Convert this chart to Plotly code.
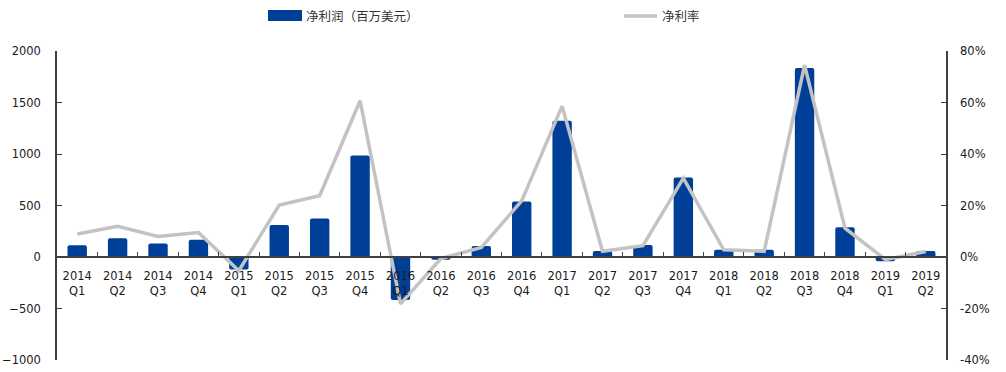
import plotly.graph_objects as go

quarters = [
    "2014<br>Q1", "2014<br>Q2", "2014<br>Q3", "2014<br>Q4",
    "2015<br>Q1", "2015<br>Q2", "2015<br>Q3", "2015<br>Q4",
    "2016<br>Q1", "2016<br>Q2", "2016<br>Q3", "2016<br>Q4",
    "2017<br>Q1", "2017<br>Q2", "2017<br>Q3", "2017<br>Q4",
    "2018<br>Q1", "2018<br>Q2", "2018<br>Q3", "2018<br>Q4",
    "2019<br>Q1", "2019<br>Q2",
]
net_income = [115, 181, 132, 168, -122, 311, 375, 986,
              -417, -26, 107, 540, 1323, 58, 116, 773,
              71, 71, 1835, 288, -42, 58]
net_margin = [8.9, 11.9, 8.0, 9.5, -5.3, 20.2, 23.8, 60.7,
              -18.2, -0.6, 3.7, 21.8, 58.6, 2.2, 4.4, 30.6,
              2.8, 2.2, 74.5, 11.2, -1.0, 2.1]

left_range = [-1000, 2000]
right_range = [-40, 80]
left_ticks = [-1000, -500, 0, 500, 1000, 1500, 2000]
right_ticks = [-40, -20, 0, 20, 40, 60, 80]

bar_color = "#003F98"
line_color = "#C3C3C3"
axis_color = "#404040"
tick_font = dict(family="DejaVu Sans", size=11.5, color="#1a1a1a")
legend_font = dict(family="Noto Sans CJK SC", size=12.5, color="#333333")

fig = go.Figure()
fig.add_trace(go.Bar(
    x=quarters, y=net_income, name="净利润（百万美元）",
    marker=dict(color=bar_color, line_width=0, cornerradius=2),
    width=0.48, yaxis="y", showlegend=False,
))
fig.add_trace(go.Scatter(
    x=quarters, y=net_margin, name="净利率", mode="lines",
    line=dict(color=line_color, width=3.5), yaxis="y2",
    showlegend=False,
))

# x axis sits where the left scale reaches zero
zero_pos = (0 - left_range[0]) / (left_range[1] - left_range[0])

fig.update_layout(
    width=1006, height=372,
    margin=dict(l=57, r=60, t=51, b=12, autoexpand=False),
    paper_bgcolor="white", plot_bgcolor="white",
    bargap=0.52,
    xaxis=dict(
        type="category", anchor="free", position=zero_pos,
        automargin=False,
        showline=True, linecolor=axis_color, linewidth=1.5,
        ticks="inside", tickson="boundaries", ticklen=4,
        tickcolor=axis_color, tickwidth=1,
        tickfont=tick_font, ticklabelstandoff=8,
        showgrid=False, zeroline=False,
        range=[-0.5, len(quarters) - 0.5],
    ),
    yaxis=dict(
        range=left_range, tickvals=left_ticks, automargin=False,
        showline=True, linecolor=axis_color, linewidth=1.5,
        ticks="inside", ticklen=5, tickcolor=axis_color,
        tickfont=tick_font, showgrid=False, zeroline=False,
        ticklabelstandoff=12,
    ),
    yaxis2=dict(
        range=right_range, tickvals=right_ticks, automargin=False,
        ticktext=[f"{v}%" for v in right_ticks],
        overlaying="y", side="right",
        showline=True, linecolor=axis_color, linewidth=1.5,
        ticks="inside", ticklen=5, tickcolor=axis_color,
        tickfont=tick_font, showgrid=False, zeroline=False,
        ticklabelstandoff=10,
    ),
)

# legend drawn above the plot area
plot_w = 1006 - 57 - 60
plot_h = 372 - 51 - 12


def px_x(px):
    return (px - 57) / plot_w


def px_y(py):
    return (372 - 12 - py) / plot_h


fig.add_shape(type="rect", xref="paper", yref="paper",
              x0=px_x(268), x1=px_x(302), y0=px_y(21), y1=px_y(10),
              fillcolor=bar_color, line_width=0)
fig.add_annotation(xref="paper", yref="paper", x=px_x(304), y=px_y(15.5),
                   text="净利润（百万美元）", showarrow=False,
                   xanchor="left", yanchor="middle", font=legend_font)
fig.add_shape(type="line", xref="paper", yref="paper",
              x0=px_x(624), x1=px_x(657), y0=px_y(16), y1=px_y(16),
              line=dict(color=line_color, width=3.5))
fig.add_annotation(xref="paper", yref="paper", x=px_x(660), y=px_y(15.5),
                   text="净利率", showarrow=False,
                   xanchor="left", yanchor="middle", font=legend_font)

fig.write_html("out.html")
